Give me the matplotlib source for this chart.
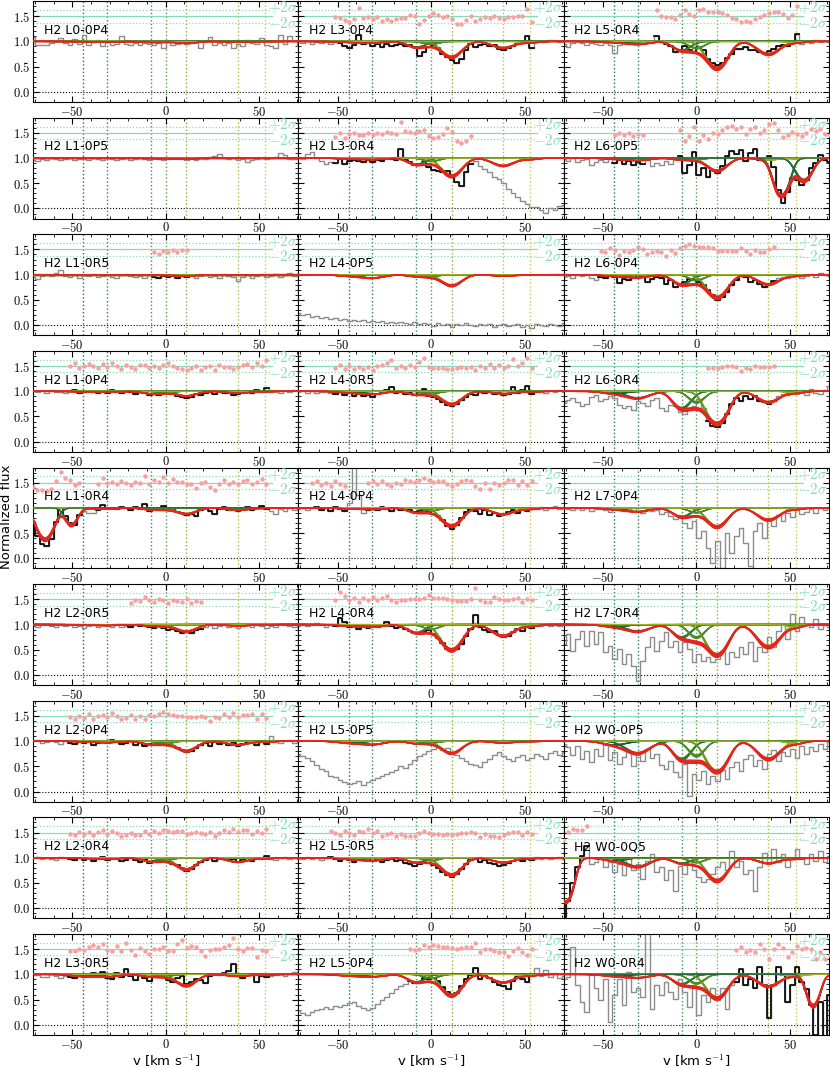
import numpy as np
import matplotlib
matplotlib.use("Agg")
import matplotlib.pyplot as plt
from matplotlib.ticker import MultipleLocator, FuncFormatter

plt.rcParams['mathtext.fontset'] = 'cm'

# pixel centres of the spectra (km/s)
v_bins = np.arange(-71.25, 71.3, 2.5)

# velocity components of the fit
comp_v = [-44, -31.5, -8, 0, 11, 38.5, 53]
comp_b = [6, 6, 4.5, 4, 5, 5.5, 4]
comp_line_col = ['#1f6f5c', '#2f7f5f', '#3f8f55', '#5a9a45', '#86b040', '#b0c040', '#c8c850']
comp_curve_col = ['#1a5e3a', '#226b35', '#2f7a2e', '#4a8a28', '#6b9a20', '#8aa81c', '#a0b020']
# spread of the posterior samples drawn for each model
samples = [0.9, 0.95, 1.0, 1.05, 1.1]

labels = ['H2 L0-0P4', 'H2 L1-0P5', 'H2 L1-0R5', 'H2 L1-0P4', 'H2 L1-0R4', 'H2 L2-0R5', 'H2 L2-0P4', 'H2 L2-0R4', 'H2 L3-0R5',
          'H2 L3-0P4', 'H2 L3-0R4', 'H2 L4-0P5', 'H2 L4-0R5', 'H2 L4-0P4', 'H2 L4-0R4', 'H2 L5-0P5', 'H2 L5-0R5', 'H2 L5-0P4',
          'H2 L5-0R4', 'H2 L6-0P5', 'H2 L6-0P4', 'H2 L6-0R4', 'H2 L7-0P4', 'H2 L7-0R4', 'H2 W0-0P5', 'H2 W0-0Q5', 'H2 W0-0R4']

# normalized flux, in percent
f_L0_0P4 = [108, 93, 93, 92, 97, 101, 107, 96, 92, 105, 95, 112, 93, 98, 103, 91, 98, 93, 95, 110, 94, 93, 97, 92, 97, 95, 93, 97, 86, 98, 93, 95, 97, 94, 97, 99, 87, 100, 108, 93, 97, 92, 97, 86, 94, 90, 102, 97, 95, 106, 92, 90, 87, 112, 95, 110, 100, 90]
f_L1_0P5 = [97, 95, 99, 97, 100, 98, 96, 99, 101, 97, 99, 98, 96, 100, 99, 97, 101, 98, 96, 99, 100, 97, 98, 101, 99, 97, 100, 98, 96, 99, 101, 100, 98, 97, 99, 96, 100, 99, 102, 104, 108, 100, 98, 101, 97, 99, 93, 97, 99, 101, 98, 100, 103, 110, 106, 99, 98, 101]
f_L1_0R5 = [95, 92, 97, 100, 98, 103, 110, 98, 96, 100, 94, 99, 97, 101, 95, 98, 100, 96, 93, 99, 101, 97, 95, 98, 94, 99, 96, 93, 97, 95, 98, 94, 97, 96, 99, 93, 97, 100, 96, 98, 94, 101, 97, 95, 88, 96, 99, 93, 97, 101, 95, 98, 102, 96, 99, 104, 98, 100]
f_L1_0P4 = [100, 98, 101, 97, 103, 99, 98, 96, 100, 103, 97, 99, 101, 98, 96, 100, 97, 102, 99, 96, 101, 98, 95, 99, 97, 93, 95, 92, 96, 99, 94, 90, 88, 86, 89, 95, 92, 97, 99, 95, 101, 97, 96, 93, 95, 98, 100, 97, 103, 99, 106, 98, 100, 97, 101, 99, 103, 100]
f_L1_0R4 = [72, 45, 28, 25, 38, 72, 100, 84, 70, 66, 85, 93, 90, 89, 96, 106, 98, 100, 97, 101, 99, 96, 101, 98, 107, 94, 100, 97, 104, 95, 99, 92, 90, 86, 88, 84, 96, 99, 93, 88, 97, 102, 95, 97, 93, 98, 101, 96, 99, 104, 97, 94, 88, 97, 93, 100, 96, 99]
f_L2_0R5 = [98, 96, 99, 101, 97, 95, 99, 97, 100, 96, 98, 94, 97, 99, 96, 100, 97, 95, 99, 96, 98, 95, 99, 97, 100, 96, 93, 97, 94, 90, 92, 88, 84, 86, 83, 90, 92, 96, 99, 94, 97, 100, 95, 98, 94, 97, 99, 96, 100, 97, 93, 98, 96, 101, 99, 97, 95, 99]
f_L2_0P4 = [100, 103, 97, 99, 101, 98, 95, 100, 97, 94, 99, 96, 101, 93, 97, 99, 96, 102, 98, 94, 96, 100, 93, 97, 90, 95, 92, 96, 98, 94, 91, 86, 82, 78, 81, 87, 93, 96, 91, 98, 95, 99, 93, 97, 90, 94, 96, 99, 93, 101, 95, 110, 98, 96, 100, 103, 97, 101]
f_L2_0R4 = [99, 101, 97, 100, 98, 96, 101, 99, 97, 95, 100, 96, 99, 94, 98, 101, 95, 99, 97, 93, 96, 99, 95, 92, 97, 90, 94, 91, 96, 93, 88, 85, 80, 74, 78, 86, 91, 95, 99, 93, 97, 100, 95, 98, 92, 96, 99, 94, 100, 97, 103, 98, 95, 99, 101, 97, 100, 98]
f_L3_0R5 = [98, 99, 94, 94, 100, 97, 93, 96, 95, 93, 97, 94, 100, 103, 99, 105, 93, 91, 103, 95, 110, 97, 88, 100, 92, 86, 94, 95, 97, 88, 85, 93, 97, 80, 85, 91, 88, 83, 97, 100, 99, 102, 106, 120, 96, 93, 99, 100, 84, 96, 95, 97, 99, 101, 96, 100, 104, 98]
f_L3_0P4 = [100, 96, 101, 94, 99, 97, 100, 95, 98, 96, 90, 86, 93, 112, 94, 96, 91, 95, 88, 94, 90, 93, 95, 91, 93, 88, 72, 80, 89, 93, 86, 75, 70, 63, 58, 66, 82, 95, 89, 93, 95, 90, 92, 85, 82, 86, 90, 94, 97, 110, 86, 98, 101, 99, 102, 100, 98, 101]
f_L3_0R4 = [103, 99, 108, 112, 100, 94, 88, 92, 91, 99, 88, 95, 97, 94, 92, 96, 93, 97, 95, 100, 98, 96, 118, 97, 92, 86, 89, 93, 82, 76, 74, 72, 75, 66, 52, 45, 72, 88, 95, 85, 78, 72, 62, 58, 50, 38, 30, 22, 15, 8, 3, 2, -3, -8, 1, -4, 4, 6]
f_L4_0P5 = [24, 20, 22, 17, 19, 15, 16, 12, 14, 10, 12, 9, 11, 8, 10, 7, 9, 6, 8, 5, 7, 4, 6, 5, 3, 6, 2, 5, 3, -2, 4, 1, 3, -3, 2, 0, 4, 1, -1, 3, 0, 2, -4, 1, 3, -2, 0, 2, -3, 1, -5, 2, 0, -2, 3, 1, -1, 4]
f_L4_0R5 = [99, 101, 97, 100, 96, 98, 102, 97, 95, 99, 93, 96, 91, 94, 90, 93, 88, 95, 97, 103, 108, 96, 99, 94, 97, 92, 98, 105, 91, 88, 84, 78, 72, 70, 74, 82, 88, 95, 92, 99, 96, 101, 94, 97, 92, 95, 108, 97, 103, 110, 95, 99, 101, 97, 100, 98, 102, 99]
f_L4_0P4 = [97, 100, 95, 99, 102, 96, 99, 94, 101, 97, 93, 110, 185, 125, 90, 96, 99, 95, 101, 97, 94, 99, 96, 100, 95, 91, 94, 97, 93, 88, 84, 76, 64, 58, 66, 80, 92, 97, 93, 88, 96, 85, 90, 84, 87, 92, 95, 90, 98, 93, 99, 97, 101, 96, 99, 103, 98, 100]
f_L4_0R4 = [98, 101, 97, 100, 103, 99, 95, 100, 97, 112, 104, 95, 99, 91, 97, 93, 100, 95, 99, 104, 97, 93, 95, 91, 88, 84, 83, 86, 90, 82, 74, 63, 52, 47, 51, 62, 77, 92, 118, 96, 90, 85, 88, 80, 76, 78, 85, 92, 88, 96, 94, 99, 97, 101, 98, 100, 97, 99]
f_L5_0P5 = [75, 70, 66, 60, 52, 45, 40, 30, 28, 22, 18, 15, 17, 20, 14, 18, 22, 26, 30, 35, 38, 42, 50, 46, 55, 62, 70, 74, 80, 85, 88, 82, 86, 78, 72, 66, 60, 55, 52, 48, 58, 65, 72, 78, 70, 64, 60, 68, 72, 62, 66, 74, 70, 64, 76, 80, 72, 78]
f_L5_0R5 = [99, 97, 101, 98, 100, 96, 99, 102, 97, 94, 99, 96, 92, 97, 95, 99, 93, 97, 91, 95, 98, 93, 96, 90, 87, 84, 88, 92, 89, 85, 80, 72, 66, 62, 68, 78, 88, 95, 98, 92, 96, 90, 88, 84, 86, 90, 94, 97, 93, 99, 96, 101, 98, 100, 97, 99, 101, 98]
f_L5_0P4 = [30, 24, 20, 26, 30, 32, 36, 31, 37, 35, 40, 43, 46, 38, 33, 30, 34, 42, 50, 55, 63, 70, 76, 80, 87, 82, 84, 93, 90, 92, 86, 74, 66, 60, 63, 76, 90, 98, 112, 91, 96, 93, 85, 79, 77, 70, 86, 95, 90, 84, 97, 112, 96, 108, 95, 103, 92, 97]
f_L5_0R4 = [95, 88, 97, 100, 96, 93, 97, 95, 92, 96, 93, 78, 93, 96, 94, 95, 94, 95, 96, 97, 110, 99, 95, 90, 80, 83, 91, 83, 78, 88, 82, 66, 57, 53, 57, 67, 76, 85, 85, 88, 83, 82, 80, 78, 81, 85, 90, 93, 90, 97, 115, 95, 100, 97, 102, 99, 101, 98]
f_L6_0P5 = [98, 95, 100, 93, 97, 99, 86, 92, 96, 93, 98, 91, 97, 88, 95, 86, 92, 89, 96, 84, 90, 87, 95, 88, 99, 105, 70, 86, 112, 66, 80, 62, 76, 70, 85, 104, 114, 108, 116, 95, 110, 118, 96, 100, 104, 82, 36, 10, 32, 60, 56, 46, 56, 80, 90, 106, 96, 92]
f_L6_0P4 = [95, 98, 93, 100, 97, 102, 94, 90, 96, 93, 100, 96, 84, 92, 89, 93, 99, 95, 86, 91, 95, 93, 81, 90, 76, 82, 86, 92, 89, 85, 80, 70, 60, 50, 55, 66, 80, 90, 100, 95, 86, 90, 81, 75, 82, 88, 93, 96, 94, 99, 97, 93, 98, 101, 96, 104, 99, 97]
f_L6_0R4 = [76, 82, 86, 78, 70, 74, 88, 92, 80, 84, 90, 86, 72, 66, 70, 62, 80, 76, 70, 82, 86, 66, 60, 72, 70, 58, 54, 62, 70, 84, 66, 42, 32, 30, 38, 54, 74, 86, 80, 90, 85, 90, 80, 78, 75, 81, 90, 95, 92, 100, 95, 99, 93, 104, 97, 95, 103, 110]
f_L7_0P4 = [100, 97, 95, 99, 96, 100, 94, 98, 101, 95, 92, 97, 99, 93, 96, 100, 94, 90, 97, 93, 95, 88, 92, 84, 78, 86, 70, 60, 75, 40, 55, 20, -10, 35, -20, 50, 10, 45, 60, 30, -15, 55, 70, 40, 80, 65, 85, 75, 90, 82, 95, 88, 92, 97, 90, 99, 95, 100]
f_L7_0R4 = [61, 81, 48, 71, 88, 58, 88, 61, 85, 45, 58, 31, 51, 21, 41, 18, -12, 28, 55, 75, 48, 68, 85, 55, 68, 45, 65, 51, 25, 41, 28, 35, 25, 31, 48, 21, 45, 35, 55, 41, 65, 28, 55, 45, 75, 55, 88, 101, 71, 121, 88, 115, 101, 95, 110, 92, 100, 96]
f_W0_0P5 = [95, 88, 72, 90, 65, 80, 58, 85, 70, 92, 62, 78, 55, 68, 80, 50, 72, 60, 85, 66, 74, 52, 44, 60, 38, 28, 55, -8, 35, 22, 40, 15, 30, 20, 42, 25, 48, 58, 40, 65, 72, 50, 62, 45, 75, 82, 60, 78, 70, 85, 66, 90, 75, 88, 80, 95, 85, 98]
f_W0_0Q5 = [-17, 15, 50, 82, 104, 123, 88, 91, 100, 81, 91, 71, 88, 65, 100, 75, 88, 58, 94, 107, 71, 81, 55, 75, 35, 84, 68, 94, 75, 61, 52, 58, 68, 81, 91, 75, 114, 81, 94, 68, 75, 35, 81, 110, 88, 117, 91, 107, 81, 100, 117, 97, 88, 107, 94, 114, 91, 104]
f_W0_0R4 = [91, 95, 154, 78, 45, 26, 100, 72, 49, 91, 5, 60, 91, 39, 105, 65, 72, 55, 190, 32, 78, 59, 85, 65, 52, 91, 65, 36, 78, 19, 59, 45, 72, 49, 72, 32, 78, 85, 111, 78, 91, 72, 114, 78, 13, 78, 114, 98, 45, 78, 114, 85, 70, 40, -20, 45, -25, 59]

fluxes = [f_L0_0P4, f_L1_0P5, f_L1_0R5, f_L1_0P4, f_L1_0R4, f_L2_0R5, f_L2_0P4, f_L2_0R4, f_L3_0R5,
          f_L3_0P4, f_L3_0R4, f_L4_0P5, f_L4_0R5, f_L4_0P4, f_L4_0R4, f_L5_0P5, f_L5_0R5, f_L5_0P4,
          f_L5_0R4, f_L6_0P5, f_L6_0P4, f_L6_0R4, f_L7_0P4, f_L7_0R4, f_W0_0P5, f_W0_0Q5, f_W0_0R4]

# optical depth of each component in each line
taus = [
    [0.005, 0.01, 0.02, 0.01, 0.04, 0.015, 0.005],
    [0.0, 0.005, 0.01, 0.01, 0.02, 0.005, 0.0],
    [0.0, 0.005, 0.01, 0.01, 0.03, 0.01, 0.0],
    [0.01, 0.02, 0.05, 0.03, 0.1, 0.04, 0.01],
    [0.01, 0.02, 0.04, 0.03, 0.13, 0.05, 0.01],
    [0.01, 0.02, 0.03, 0.03, 0.15, 0.03, 0.01],
    [0.01, 0.03, 0.07, 0.05, 0.22, 0.08, 0.02],
    [0.01, 0.03, 0.08, 0.05, 0.27, 0.09, 0.02],
    [0.04, 0.05, 0.05, 0.04, 0.26, 0.04, 0.02],
    [0.02, 0.03, 0.13, 0.06, 0.38, 0.14, 0.03],
    [0.02, 0.03, 0.14, 0.07, 0.45, 0.17, 0.03],
    [0.03, 0.07, 0.04, 0.04, 0.25, 0.03, 0.01],
    [0.03, 0.06, 0.07, 0.05, 0.3, 0.05, 0.02],
    [0.02, 0.03, 0.1, 0.06, 0.45, 0.14, 0.03],
    [0.03, 0.05, 0.18, 0.1, 0.72, 0.26, 0.04],
    [0.04, 0.07, 0.05, 0.04, 0.28, 0.04, 0.01],
    [0.03, 0.06, 0.1, 0.06, 0.42, 0.1, 0.02],
    [0.03, 0.05, 0.17, 0.08, 0.55, 0.18, 0.03],
    [0.02, 0.06, 0.2, 0.15, 0.78, 0.3, 0.03],
    [0.02, 0.05, 0.04, 0.03, 0.3, 0.04, 0.02],
    [0.03, 0.06, 0.22, 0.12, 0.62, 0.22, 0.03],
    [0.05, 0.15, 0.42, 0.25, 1.05, 0.25, 0.04],
    [0.03, 0.08, 0.2, 0.1, 0.48, 0.28, 0.03],
    [0.05, 0.15, 0.3, 0.3, 0.95, 0.6, 0.06],
    [0.08, 0.28, 0.45, 0.35, 0.95, 0.45, 0.06],
    [0.06, 0.2, 0.12, 0.1, 0.62, 0.12, 0.03],
    [0.04, 0.07, 0.22, 0.2, 0.65, 0.28, 0.04],
]

# blended lines of other transitions: (velocity, tau, width)
blends = {
    'H2 L1-0R4': [(-64.5, 1.0, 4.0), (-50.5, 0.42, 3.0)],
    'H2 L6-0P5': [(45.5, 1.4, 3.5), (57.5, 0.6, 4.0)],
    'H2 W0-0Q5': [(-70.5, 2.2, 3.5)],
    'H2 W0-0R4': [(62.5, 1.0, 3.0)],
}

# velocity ranges used in the fit (drawn black, with residuals)
fit_ranges = [
    [], [], [(-8, 12)], [(-52, 56)], [(-72, -45), (-37, 54)], [(-20, 19)], [(-52, 56)], [(-52, 56)], [(-52, 56)],
    [(-52, 56)], [(-52, 23)], [], [(-52, 56)], [(-66, -45), (-34, 56)], [(-52, 56)], [], [(-55, 56)], [(-12, 56)],
    [(-23, 56)], [(-46, -28), (-10, 72)], [(-52, 42)], [(5, 42)], [], [], [], [(-72, -57)], [(20, 72)],
]

# flux uncertainty per line, sets the residual scale
flux_err = [0.05, 0.03, 0.04, 0.04, 0.05, 0.04, 0.05, 0.05, 0.06,
            0.06, 0.06, 0.05, 0.05, 0.05, 0.06, 0.05, 0.05, 0.07,
            0.06, 0.10, 0.07, 0.10, 0.10, 0.10, 0.10, 0.12, 0.20]


def absorb(v, v0, tau, b):
    return np.exp(-tau * np.exp(-0.5 * ((v - v0) / b) ** 2))


def model(v, tau_list, extra, s=1.0):
    f = np.ones_like(v)
    for v0, t, b in zip(comp_v, tau_list, comp_b):
        f *= absorb(v, v0, t * s, b)
    for v0, t, b in extra:
        f *= absorb(v, v0, t * s, b)
    return f


band_col = '#86dcb8'
vv = np.linspace(-72, 72, 700)
tick_fmt = FuncFormatter(lambda x, p: r'$%g$' % x)
ytick_fmt = FuncFormatter(lambda x, p: r'$%.1f$' % (x + 0.0))

fig, axes = plt.subplots(9, 3, figsize=(8.3, 10.68), dpi=100)
fig.subplots_adjust(left=0.0398, right=0.999, top=0.999, bottom=0.031, hspace=0.156, wspace=0)

for idx, name in enumerate(labels):
    col = idx // 9
    row = idx % 9
    ax = axes[row, col]
    flux = np.array(fluxes[idx], dtype=float) / 100.0
    extra = blends.get(name, [])

    ax.axhline(0, color='k', ls=':', lw=0.8, zorder=1)
    for v0, c in zip(comp_v, comp_line_col):
        ax.axvline(v0, color=c, ls=':', lw=1.0, zorder=1)

    # residual band
    ax.axhline(1.5, xmax=0.9, color=band_col, lw=0.9, zorder=1)
    ax.axhline(1.625, xmax=0.9, color=band_col, lw=0.9, ls=':', zorder=1)
    ax.axhline(1.375, xmax=0.9, color=band_col, lw=0.9, ls=':', zorder=1)
    trans = ax.get_yaxis_transform()
    ax.text(0.997, 1.66, r'$+2\sigma$', color=band_col, fontsize=11, transform=trans, va='center', ha='right')
    ax.text(0.997, 1.355, r'$-2\sigma$', color=band_col, fontsize=11, transform=trans, va='center', ha='right')

    # spectrum
    ax.step(v_bins, flux, where='mid', color='#8c8c8c', lw=1.0, zorder=2)
    mask = np.zeros(len(v_bins), dtype=bool)
    for lo, hi in fit_ranges[idx]:
        mask |= (v_bins >= lo) & (v_bins <= hi)
    if mask.any():
        ax.step(v_bins, np.where(mask, flux, np.nan), where='mid', color='k', lw=1.2, zorder=3)

    # single components
    for s in samples:
        for v0, t, b, c in zip(comp_v, taus[idx], comp_b, comp_curve_col):
            ax.plot(vv, absorb(vv, v0, t * s, b), color=c, lw=0.8, zorder=4)
        for v0, t, b in extra:
            ax.plot(vv, absorb(vv, v0, t * s, b), color='#1f6b3a', lw=0.8, zorder=4)
    # full model
    for s in samples:
        ax.plot(vv, model(vv, taus[idx], extra, s), color='#e8231c', lw=1.0, zorder=5)

    # residuals
    if mask.any():
        m = model(v_bins, taus[idx], extra)
        res = 1.5 + 0.0625 * (flux - m) / flux_err[idx]
        res = np.clip(res, 1.3, 1.72)
        ax.plot(v_bins[mask], res[mask], 'o', color='#f7a0a0', ms=3.2, mec='none', zorder=6)

    ax.text(0.04, 0.71, name, transform=ax.transAxes, fontsize=9, va='center', zorder=7)

    ax.set_xlim(-71, 71)
    ax.set_ylim(-0.2, 1.8)
    ax.xaxis.set_major_locator(MultipleLocator(50))
    ax.xaxis.set_minor_locator(MultipleLocator(10))
    ax.yaxis.set_major_locator(MultipleLocator(0.5))
    ax.yaxis.set_minor_locator(MultipleLocator(0.1))
    ax.xaxis.set_major_formatter(tick_fmt)
    ax.yaxis.set_major_formatter(ytick_fmt)
    ax.tick_params(which='both', direction='in', top=True, right=True, labelsize=9, pad=2)
    ax.tick_params(which='major', length=4)
    ax.tick_params(which='minor', length=2)
    if col > 0:
        ax.set_yticklabels([])
    if row == 8:
        ax.set_xlabel(r'v [km s$^{-1}$]', fontsize=9.5, labelpad=1)

fig.text(0.008, 0.516, 'Normalized flux', rotation=90, va='center', ha='center', fontsize=9.5)

fig.savefig('out.png', dpi=100)
